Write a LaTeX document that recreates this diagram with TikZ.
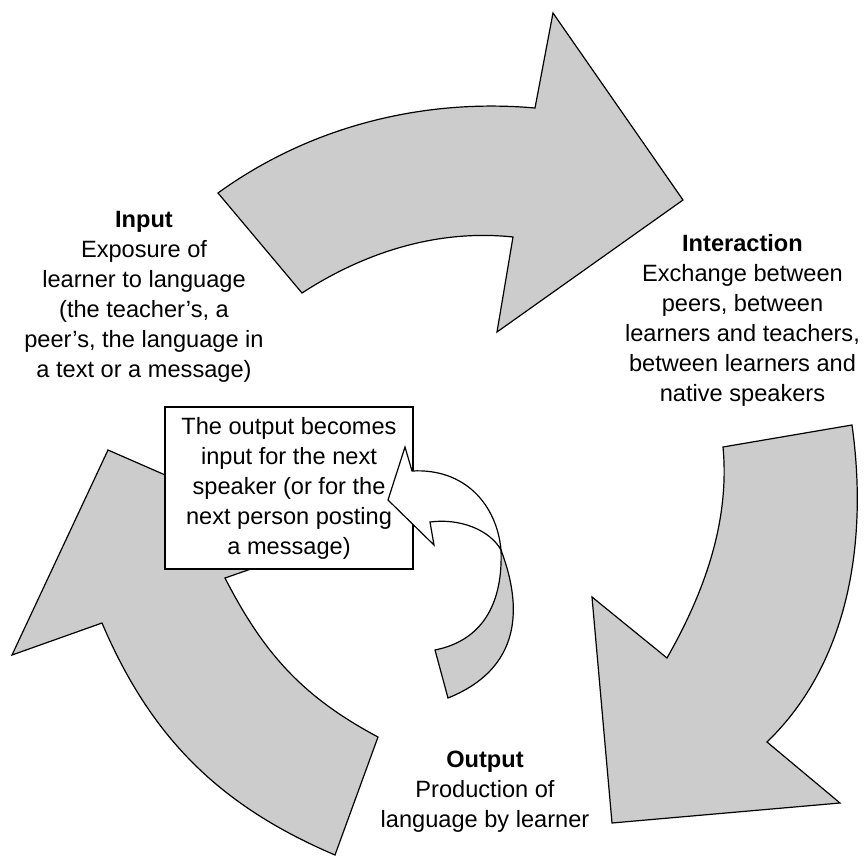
\documentclass[tikz,border=0pt]{standalone}
\usepackage{fontspec}
\setmainfont{Liberation Sans}

\begin{document}
\begin{tikzpicture}[
  x=0.5pt, y=-0.5pt,
  band/.style={draw=black, line width=0.6pt, fill=gray!40},
  twist/.style={draw=black, line width=0.6pt, fill=white},
  stage/.style={align=center, inner sep=0pt, font=\fontsize{11.8}{15}\selectfont},
  notebox/.style={stage, draw=black, line width=0.6pt, fill=white,
    minimum width=124pt, minimum height=81pt}
]
  \useasboundingbox (0,0) rectangle (864,857);

  % the three big arrows of the cycle
  \draw[band] (218,193) .. controls (309,127) and (422,98) .. (535,108)
    -- (553,13) -- (683,200) -- (497,332) -- (513,237)
    .. controls (438,229) and (365,252) .. (302,293) -- cycle;
  \draw[band] (852,425) .. controls (868,539) and (850,662) .. (767,742)
    -- (840,803) -- (612,823) -- (592,597) -- (667,658)
    .. controls (704,593) and (730,522) .. (723,447) -- cycle;
  \draw[band] (335,855) .. controls (220,806) and (151,738) .. (102,623)
    -- (12,655) -- (108,450) -- (323,544) -- (225,578)
    .. controls (264,654) and (303,697) .. (378,737) -- cycle;

  % stage texts
  \node[stage] (input) at (144,297)
    {\textbf{Input}\\Exposure of\\learner to language\\(the teacher’s, a\\peer’s, the language in\\a text or a message)};
  \node[stage] (interaction) at (742.5,320)
    {\textbf{Interaction}\\Exchange between\\peers, between\\learners and teachers,\\between learners and\\native speakers};
  \node[stage] (output) at (485,792)
    {\textbf{Output}\\Production of\\language by learner};

  \node[notebox] (note) at (289,488)
    {The output becomes\\input for the next\\speaker (or for the\\next person posting\\a message)};

  % small twisted arrow back into the note
  \draw[band] (501,550) .. controls (518,595) and (530,665) .. (448,698)
    -- (435,650) .. controls (485,640) and (503,600) .. (501,550) -- cycle;
  \draw[twist] (412,471) -- (405,447) -- (388,500) -- (434,545) -- (430,522)
    .. controls (460,518) and (490,530) .. (501,550)
    .. controls (497,505) and (465,468) .. (412,471) -- cycle;
\end{tikzpicture}
\end{document}
